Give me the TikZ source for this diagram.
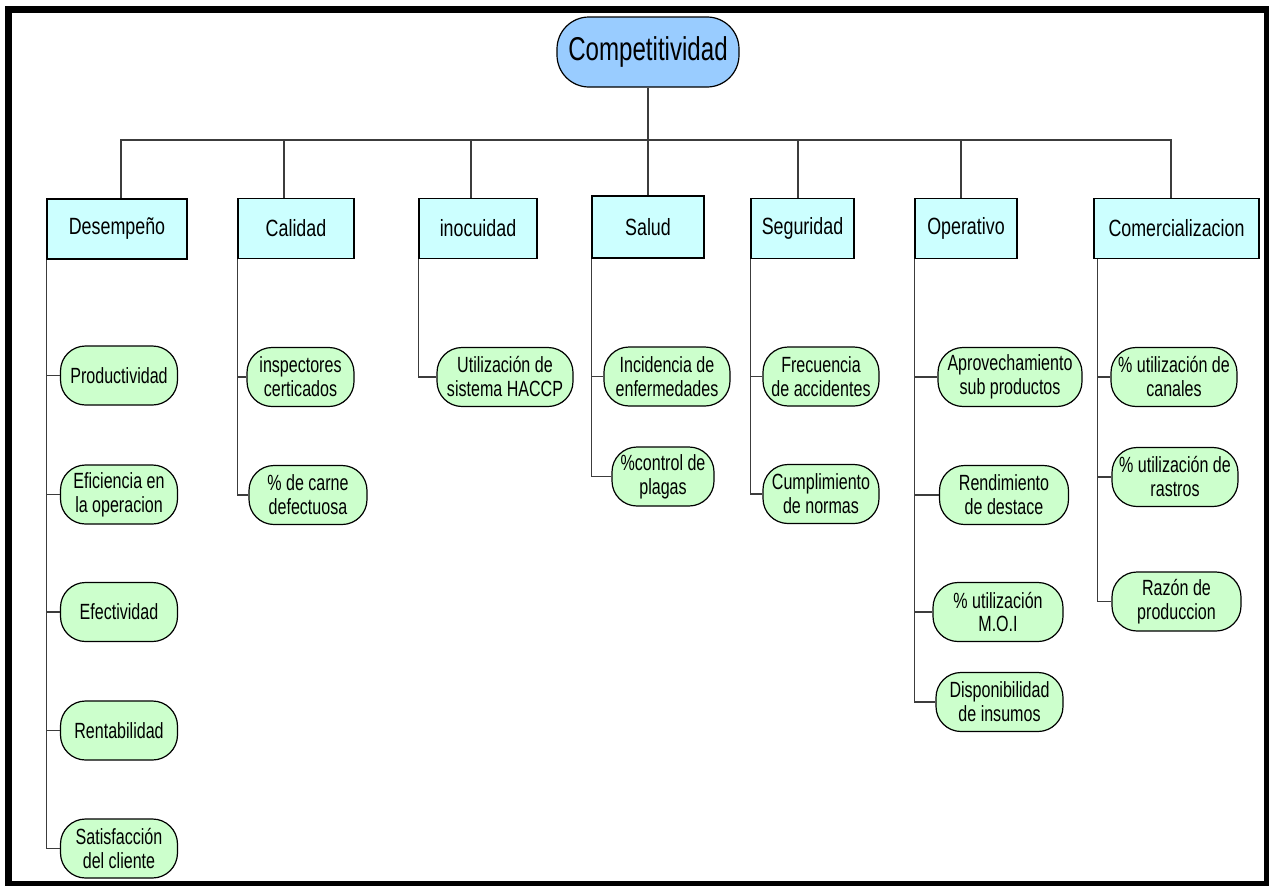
\documentclass[tikz,border=0pt]{standalone}
\usepackage{fontspec}
\setmainfont{Liberation Sans}[FakeStretch=0.76]
\newfontfamily\rootfont{Liberation Sans}[FakeStretch=0.73]
\newfontfamily\leaffont{Liberation Sans}[FakeStretch=0.73]
\usepackage{tikz}
\definecolor{cmproot}{RGB}{153,204,255}
\definecolor{cmparea}{RGB}{204,255,255}
\definecolor{cmpleaf}{RGB}{204,255,204}
\definecolor{cmpline}{RGB}{60,60,60}

\begin{document}
\begin{tikzpicture}[x=1pt,y=-1pt,
  root/.style={draw=black,line width=1.2pt,fill=cmproot,rounded corners=32pt,
    minimum width=182pt,minimum height=70pt,inner sep=0pt,font=\rootfont\fontsize{33}{38}\selectfont},
  area/.style={draw=black,line width=1.2pt,fill=cmparea,minimum height=60pt,
    inner sep=0pt,font=\fontsize{23.5}{27}\selectfont},
  metric/.style={draw=black,line width=1.2pt,fill=cmpleaf,rounded corners=25pt,
    minimum height=59pt,inner sep=0pt,align=center,font=\leaffont\fontsize{22}{24}\selectfont},
  link/.style={draw=cmpline,line width=1.2pt}]

\useasboundingbox (0,0) rectangle (1269,886);
\draw[line width=7pt] (8.5,9.5) rectangle (1267.5,884.5);

\node[root] (comp) at (648,52) {Competitividad};
\coordinate (bus) at (648,140);

% areas
\node[area,minimum width=140pt] (des) at (117,229) {Desempeño};
\node[area,minimum width=116pt] (cal) at (296,228.5) {Calidad};
\node[area,minimum width=118pt] (ino) at (478,228.5) {inocuidad};
\node[area,minimum width=112pt,minimum height=62pt] (sal) at (648,227) {Salud};
\node[area,minimum width=103pt] (seg) at (802.5,228.5) {Seguridad};
\node[area,minimum width=102pt] (ope) at (966,228.5) {Operativo};
\node[area,minimum width=165pt] (com) at (1176.5,228.5) {Comercializacion};

\draw[link] (comp.south) -- (bus);
\foreach \a/\dx in {des/4pt,cal/-12pt,ino/-7pt,sal/0pt,seg/-4.5pt,ope/-5pt,com/-5.5pt}
  \draw[link] (bus) -| ([xshift=\dx]\a.north);

% indicators
\node[metric,minimum width=117pt] (prod) at (119,375.5) {Productividad};
\node[metric,minimum width=117pt] (efi) at (119,494.5) {Eficiencia en\\la operacion};
\node[metric,minimum width=117pt] (efe) at (119,612) {Efectividad};
\node[metric,minimum width=117pt] (ren) at (119,730.5) {Rentabilidad};
\node[metric,minimum width=117pt] (sat) at (119,848.5) {Satisfacción\\del cliente};

\node[metric,minimum width=107pt] (insp) at (300.5,377) {inspectores\\certicados};
\node[metric,minimum width=118pt] (carne) at (308,495) {\% de carne\\defectuosa};

\node[metric,minimum width=136pt] (haccp) at (505,377) {Utilización de\\sistema HACCP};

\node[metric,minimum width=126pt] (inc) at (667,376.5) {Incidencia de\\enfermedades};
\node[metric,minimum width=102pt] (plag) at (663,476.5) {\%control de\\plagas};

\node[metric,minimum width=116pt] (frec) at (821,376.5) {Frecuencia\\de accidentes};
\node[metric,minimum width=116pt] (cump) at (821,494) {Cumplimiento\\de normas};

\node[metric,minimum width=144pt] (apro) at (1010,377) {Aprovechamiento\\sub productos};
\node[metric,minimum width=129pt] (rend) at (1004,495) {Rendimiento\\de destace};
\node[metric,minimum width=130pt] (moi) at (998,612) {\% utilización\\M.O.I};
\node[metric,minimum width=127pt] (disp) at (999.5,702) {Disponibilidad\\de insumos};

\node[metric,minimum width=126pt] (can) at (1174,377) {\% utilización de\\canales};
\node[metric,minimum width=126pt] (ras) at (1175,477) {\% utilización de\\rastros};
\node[metric,minimum width=129pt] (raz) at (1176.5,601.5) {Razón de\\produccion};

\foreach \m in {prod,efi,efe,ren,sat}
  \draw[link] (des.south west) |- (\m.west);
\foreach \m in {insp,carne}
  \draw[link] (cal.south west) |- (\m.west);
\draw[link] (ino.south west) |- (haccp.west);
\foreach \m in {inc,plag}
  \draw[link] (sal.south west) |- (\m.west);
\foreach \m in {frec,cump}
  \draw[link] (seg.south west) |- (\m.west);
\foreach \m in {apro,rend,moi,disp}
  \draw[link] (ope.south west) |- (\m.west);
\foreach \m in {can,ras,raz}
  \draw[link] ([xshift=4pt]com.south west) |- (\m.west);

\end{tikzpicture}
\end{document}
